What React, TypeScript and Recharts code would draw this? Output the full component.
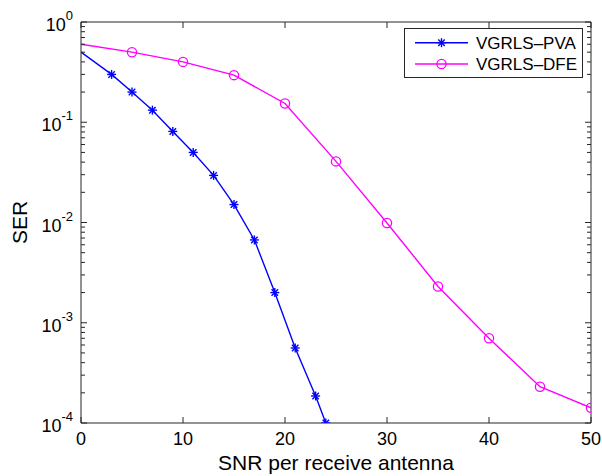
/**
 * SER vs SNR - log-scale comparison of VGRLS-PVA and VGRLS-DFE
 */

import { LineChart, Line, XAxis, YAxis, ReferenceLine, Legend } from 'recharts';

// SNR (dB) and SER values
const snrPva = [0, 3, 5, 7, 9, 11, 13, 15, 17, 19, 21, 23, 24];
const serPva = [0.5, 0.3, 0.2, 0.132, 0.081, 0.05, 0.0295, 0.0151, 0.0067, 0.002, 0.00056, 0.000186, 0.0001];

const snrDfe = [0, 5, 10, 15, 20, 25, 30, 35, 40, 45, 50];
const serDfe = [0.6, 0.5, 0.4, 0.295, 0.154, 0.0407, 0.0099, 0.0023, 0.0007, 0.00023, 0.000142];

const xTicks = [0, 10, 20, 30, 40, 50];
const yDecades = [1e-4, 1e-3, 1e-2, 1e-1, 1];
const yMinorFactors = [2, 3, 4, 5, 6, 7, 8, 9];

const SERIES = [
    { key: 'pva', label: 'VGRLS\u2013PVA', color: '#0000ff', marker: 'star' },
    { key: 'dfe', label: 'VGRLS\u2013DFE', color: '#ff00ff', marker: 'circle' },
];

const pvaData = snrPva.map((snr, i) => ({ snr, ser: serPva[i] }));
const dfeData = snrDfe.map((snr, i) => ({ snr, ser: serDfe[i] }));

const yTicks = [
    ...yDecades,
    ...yDecades.slice(0, -1).flatMap((d) => yMinorFactors.map((f) => d * f)),
].sort((a, b) => a - b);

const W = 602;
const H = 476;
const PLOT_LEFT = 81;
const PLOT_TOP = 22;
const PLOT_W = 510;
const PLOT_H = 401;
const AXIS = '#262626';
const FONT = '"Liberation Sans", Arial, sans-serif';

function Star({ cx, cy, color }: { cx: number; cy: number; color: string }) {
    const r = 4.5;
    const d = r * 0.72;
    return (
        <g stroke={color} strokeWidth={1.4}>
            <line x1={cx - r} y1={cy} x2={cx + r} y2={cy} />
            <line x1={cx} y1={cy - r} x2={cx} y2={cy + r} />
            <line x1={cx - d} y1={cy - d} x2={cx + d} y2={cy + d} />
            <line x1={cx - d} y1={cy + d} x2={cx + d} y2={cy - d} />
        </g>
    );
}

function Marker({ type, cx, cy, color }: { type: string; cx: number; cy: number; color: string }) {
    if (type === 'star') return <Star cx={cx} cy={cy} color={color} />;
    return <circle cx={cx} cy={cy} r={4.6} fill="none" stroke={color} strokeWidth={1.3} />;
}

// markers are not drawn on the first point (SNR = 0)
const makeDot = (type: string, color: string) => (props: any) => {
    const { cx, cy, index, payload } = props;
    if (payload.snr === 0 || cx == null || cy == null) return <g key={`d-${index}`} />;
    return (
        <g key={`d-${index}`}>
            <Marker type={type} cx={cx} cy={cy} color={color} />
        </g>
    );
};

function YTick(props: any) {
    const { x, y, payload } = props;
    const v = payload.value;
    const exp = Math.round(Math.log10(v));
    const major = Math.abs(Math.log10(v) - exp) < 1e-6;
    const len = major ? 6 : 4;
    return (
        <g>
            <line x1={x} x2={x + len} y1={y} y2={y} stroke={AXIS} />
            <line x1={x + PLOT_W} x2={x + PLOT_W - len} y1={y} y2={y} stroke={AXIS} />
            {major && (
                <text x={x - 8} y={y + 9} textAnchor="end" fontSize={18} fill="#000" fontFamily={FONT}>
                    10
                    <tspan dy={-11} fontSize={13}>
                        {String(exp)}
                    </tspan>
                </text>
            )}
        </g>
    );
}

function XTick(props: any) {
    const { x, y, payload } = props;
    return (
        <g>
            <line x1={x} x2={x} y1={y} y2={y - 6} stroke={AXIS} />
            <line x1={x} x2={x} y1={y - PLOT_H} y2={y - PLOT_H + 6} stroke={AXIS} />
            <text x={x} y={y + 22} textAnchor="middle" fontSize={18} fill="#000" fontFamily={FONT}>
                {payload.value}
            </text>
        </g>
    );
}

function LegendBox() {
    return (
        <svg width={180} height={51} style={{ display: 'block' }}>
            <rect x={0.5} y={0.5} width={178} height={49} fill="#fff" stroke={AXIS} strokeWidth={1} />
            {SERIES.map((s, i) => {
                const cy = 14.7 + i * 21.3;
                return (
                    <g key={s.key}>
                        <line x1={11} x2={64} y1={cy} y2={cy} stroke={s.color} strokeWidth={1.4} />
                        <Marker type={s.marker} cx={37.5} cy={cy} color={s.color} />
                        <text x={72} y={cy + 6} fontSize={17} fill="#000" fontFamily={FONT}>
                            {s.label}
                        </text>
                    </g>
                );
            })}
        </svg>
    );
}

export default function App() {
    return (
        <div style={{ position: 'absolute', left: 0, top: 0, width: W, height: H, background: '#fff' }}>
            <LineChart
                width={W}
                height={H}
                margin={{ top: PLOT_TOP, right: W - PLOT_LEFT - PLOT_W, bottom: 0, left: 0 }}
            >
                <XAxis
                    type="number"
                    dataKey="snr"
                    domain={[0, 50]}
                    ticks={xTicks}
                    interval={0}
                    allowDataOverflow
                    height={H - PLOT_TOP - PLOT_H}
                    tickSize={0}
                    tickMargin={0}
                    tickLine={false}
                    axisLine={{ stroke: AXIS }}
                    tick={<XTick />}
                    label={{
                        value: 'SNR per receive antenna',
                        position: 'insideBottom',
                        offset: 6,
                        fontSize: 21,
                        fill: '#000',
                        fontFamily: FONT,
                    }}
                />
                <YAxis
                    type="number"
                    scale="log"
                    domain={[1e-4, 1]}
                    ticks={yTicks}
                    interval={0}
                    allowDataOverflow
                    width={PLOT_LEFT}
                    tickSize={0}
                    tickMargin={0}
                    tickLine={false}
                    axisLine={{ stroke: AXIS }}
                    tick={<YTick />}
                    label={{
                        value: 'SER',
                        angle: -90,
                        position: 'insideLeft',
                        offset: 20,
                        fontSize: 21,
                        fill: '#000',
                        fontFamily: FONT,
                        style: { textAnchor: 'middle' },
                    }}
                />
                <ReferenceLine y={1} stroke={AXIS} />
                <ReferenceLine x={50} stroke={AXIS} />
                <Line
                    data={pvaData}
                    dataKey="ser"
                    name={SERIES[0].label}
                    stroke={SERIES[0].color}
                    strokeWidth={1.4}
                    dot={makeDot('star', SERIES[0].color)}
                    activeDot={false}
                    isAnimationActive={false}
                />
                <Line
                    data={dfeData}
                    dataKey="ser"
                    name={SERIES[1].label}
                    stroke={SERIES[1].color}
                    strokeWidth={1.4}
                    dot={makeDot('circle', SERIES[1].color)}
                    activeDot={false}
                    isAnimationActive={false}
                />
                <Legend
                    layout="horizontal"
                    verticalAlign="middle"
                    align="center"
                    content={() => <LegendBox />}
                    wrapperStyle={{ left: 404, top: 28, width: 180, height: 51 }}
                />
            </LineChart>
        </div>
    );
}
